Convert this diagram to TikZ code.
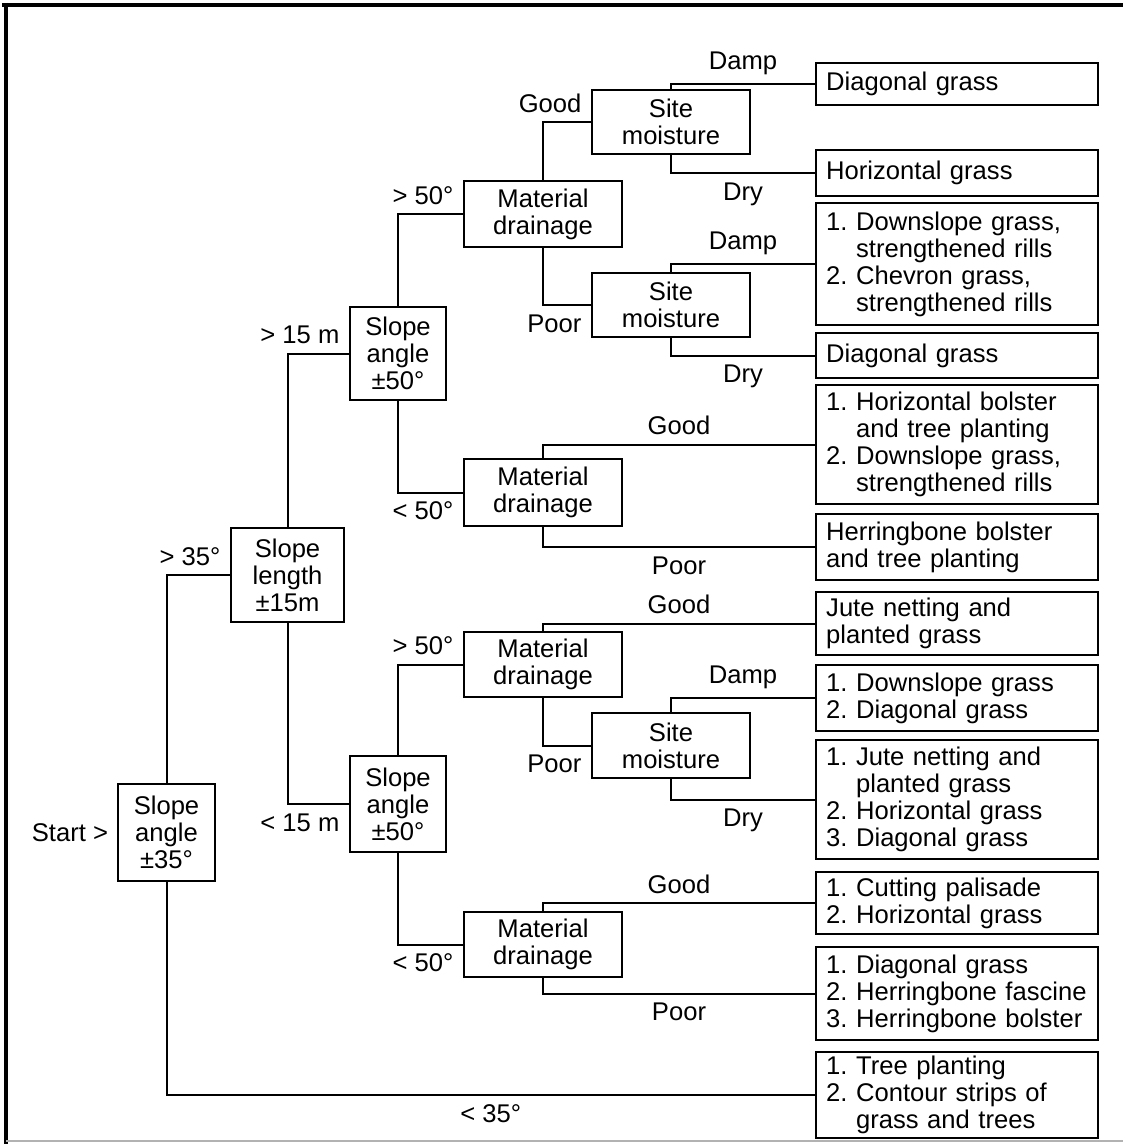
\documentclass[tikz,border=0pt]{standalone}
\usepackage{fontspec}
\setmainfont{Liberation Sans}
\usepackage{tikz}
\usetikzlibrary{positioning}
\frenchspacing

\newcommand{\hangsp}{\phantom{1. }}

\tikzset{
  decision/.style={draw, line width=1.2pt, align=center, inner sep=2pt, minimum width=79pt},
  leaf/.style={draw, line width=1.2pt, align=left, anchor=west, text width=131pt, inner xsep=5pt, inner ysep=2pt},
  link/.style={line width=1pt},
  lbl/.style={inner sep=4.2pt}
}

\begin{document}
\begin{tikzpicture}[x=0.5pt, y=-0.5pt, font=\fontsize{12.8pt}{13.5pt}\selectfont]

\useasboundingbox (0,0) rectangle (1123,1144);

% Draw frame
\draw[line width=2pt] (2,5) -- (1123,5);
\draw[line width=2pt] (6,3) -- (6,1144);
\draw[gray!60, line width=0.8pt] (6,1141) -- (1123,1141);

% Draw decision boxes
\node[decision, minimum width=48.5pt, minimum height=48.5pt] (sa0) at (166.5,832.5) {Slope\\angle\\±35°};
\node[lbl, left=0pt of sa0] (start) {Start >};
\node[decision, minimum width=56.5pt, minimum height=47pt] (sl) at (287.5,575) {Slope\\length\\±15m};
\node[decision, minimum width=48pt, minimum height=46.5pt] (sa1) at (398,353.5) {Slope\\angle\\±50°};
\node[decision, minimum width=48pt, minimum height=48pt] (sa2) at (398,804) {Slope\\angle\\±50°};
\node[decision, minimum height=33pt] (md1) at (543,214) {Material\\drainage};
\node[decision, minimum height=33.5pt] (md2) at (543,492.5) {Material\\drainage};
\node[decision, minimum height=32.5pt] (md3) at (543,664.5) {Material\\drainage};
\node[decision, minimum height=32.5pt] (md4) at (543,944.5) {Material\\drainage};
\node[decision, minimum height=32pt] (sm1) at (671,122) {Site\\moisture};
\node[decision, minimum height=32pt] (sm2) at (671,305) {Site\\moisture};
\node[decision, minimum height=32.5pt] (sm3) at (671,745.5) {Site\\moisture};

% Draw result boxes
\node[leaf, minimum height=21pt] (l1) at (815,84) {Diagonal grass};
\node[leaf, minimum height=23pt] (l2) at (815,173) {Horizontal grass};
\node[leaf, minimum height=61pt] (l3) at (815,264) {1. Downslope grass,\\\hangsp strengthened rills\\2. Chevron grass,\\\hangsp strengthened rills};
\node[leaf, minimum height=22.5pt] (l4) at (815,355.5) {Diagonal grass};
\node[leaf, minimum height=59.5pt] (l5) at (815,444.5) {1. Horizontal bolster\\\hangsp and tree planting\\2. Downslope grass,\\\hangsp strengthened rills};
\node[leaf, minimum height=33pt] (l6) at (815,547) {Herringbone bolster\\and tree planting};
\node[leaf, minimum height=31.5pt] (l7) at (815,623.5) {Jute netting and\\planted grass};
\node[leaf, minimum height=33pt] (l8) at (815,698) {1. Downslope grass\\2. Diagonal grass};
\node[leaf, minimum height=59.5pt] (l9) at (815,799.5) {1. Jute netting and\\\hangsp planted grass\\2. Horizontal grass\\3. Diagonal grass};
\node[leaf, minimum height=31pt] (l10) at (815,903) {1. Cutting palisade\\2. Horizontal grass};
\node[leaf, minimum height=46.5pt] (l11) at (815,993.5) {1. Diagonal grass\\2. Herringbone fascine\\3. Herringbone bolster};
\node[leaf, minimum height=43pt] (l12) at (815,1095) {1. Tree planting\\2. Contour strips of\\\hangsp grass and trees};

% Draw connections
\draw[link] (sa0.north) |- (sl.west) node[lbl, pos=1, above left] {> 35°};
\draw[link] (sa0.south) |- (l12.west) node[lbl, pos=0.75, below] {< 35°};
\draw[link] (sl.north) |- (sa1.west) node[lbl, pos=1, above left] {> 15 m};
\draw[link] (sl.south) |- (sa2.west) node[lbl, pos=1, below left] {< 15 m};
\draw[link] (sa1.north) |- (md1.west) node[lbl, pos=1, above left] {> 50°};
\draw[link] (sa1.south) |- (md2.west) node[lbl, pos=1, below left] {< 50°};
\draw[link] (sa2.north) |- (md3.west) node[lbl, pos=1, above left] {> 50°};
\draw[link] (sa2.south) |- (md4.west) node[lbl, pos=1, below left] {< 50°};
\draw[link] (md1.north) |- (sm1.west) node[lbl, pos=1, above left] {Good};
\draw[link] (md1.south) |- (sm2.west) node[lbl, pos=1, below left] {Poor};
\draw[link] (md2.north) |- (l5.west) node[lbl, pos=0.75, above] {Good};
\draw[link] (md2.south) |- (l6.west) node[lbl, pos=0.75, below] {Poor};
\draw[link] (md3.north) |- (l7.west) node[lbl, pos=0.75, above] {Good};
\draw[link] (md3.south) |- (sm3.west) node[lbl, pos=1, below left] {Poor};
\draw[link] (md4.north) |- (l10.west) node[lbl, pos=0.75, above] {Good};
\draw[link] (md4.south) |- (l11.west) node[lbl, pos=0.75, below] {Poor};
\draw[link] (sm1.north) |- (l1.west) node[lbl, pos=0.75, above] {Damp};
\draw[link] (sm1.south) |- (l2.west) node[lbl, pos=0.75, below] {Dry};
\draw[link] (sm2.north) |- (l3.west) node[lbl, pos=0.75, above] {Damp};
\draw[link] (sm2.south) |- (l4.west) node[lbl, pos=0.75, below] {Dry};
\draw[link] (sm3.north) |- (l8.west) node[lbl, pos=0.75, above] {Damp};
\draw[link] (sm3.south) |- (l9.west) node[lbl, pos=0.75, below] {Dry};

\end{tikzpicture}
\end{document}
